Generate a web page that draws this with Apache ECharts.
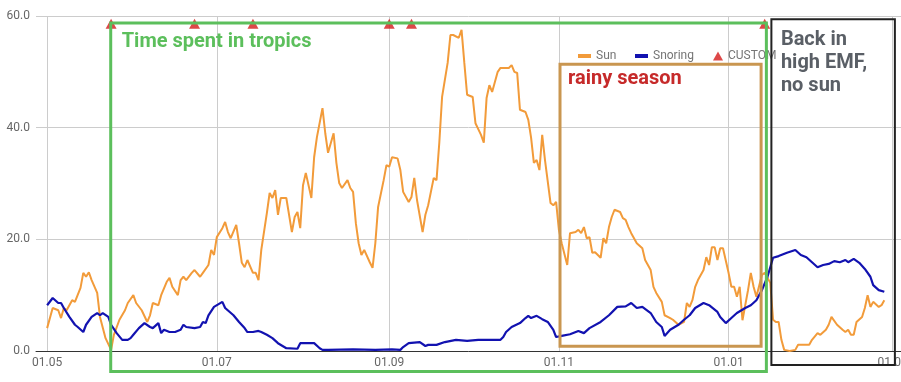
<!DOCTYPE html>
<html><head><meta charset="utf-8">
<script src="https://cdn.jsdelivr.net/npm/echarts@6/dist/echarts.min.js"></script>
<style>html,body{margin:0;padding:0;background:#fff}#c{width:901px;height:382px}</style>
</head><body><div id="c"></div>
<script>
// ---- data ----
const axisStart = '2018-04-27';
const axisEnd = '2019-03-04';
const seriesOrigin = '2018-05-01'; // day 0 of the series day offsets
const xTickLabels = ['01.05', '01.07', '01.09', '01.11', '01.01', '01.03'];

// [day offset from 1 May, value]
const sunPoints = [[0,4.1],[2,7.7],[4,7.3],[5,5.9],[6,7.7],[7,7.3],[9,9.1],[10,8.8],[12,11.3],[13,14],[14,13.3],[15,14.1],[16,12.7],[18,10.4],[19,6.1],[21,2.3],[23,0.2],[24,2.9],[26,5.6],[28,7.3],[29,8.6],[31,10],[32,8.6],[34,7.3],[36,5.2],[37,6.4],[38,8.6],[40,8.2],[41,10],[43,12.4],[44,13.1],[45,11.5],[47,10],[48,12.7],[49,13.3],[50,12.7],[52,14],[53,14.5],[55,13.3],[56,14],[58,15.4],[59,18.1],[60,17.2],[61,20.4],[63,22],[64,23.1],[65,21.3],[66,20.2],[68,22.6],[69,19.3],[70,15.8],[71,15],[72,16.3],[74,14],[75,14],[76,12.7],[77,18.1],[79,24.7],[80,28.3],[81,27.4],[82,28.8],[83,24.4],[84,27.4],[86,27.4],[88,21.3],[89,24],[90,24.9],[91,22],[92,29.7],[93,31.9],[95,27.4],[96,34.7],[97,38.3],[99,43.5],[100,39],[101,35.5],[103,39],[104,33.7],[105,30.1],[106,29.2],[108,30.6],[109,29.2],[110,28.5],[111,22.9],[112,19.3],[113,17.2],[114,18.1],[116,15.9],[117,14.9],[118,19.3],[119,25.8],[121,30.6],[122,33.3],[123,33],[124,34.7],[126,34.5],[127,32.4],[128,28.5],[130,26.7],[131,27.6],[132,31],[133,27],[135,21.3],[136,24.4],[137,26.1],[139,31],[140,30.6],[141,37.3],[142,45.5],[144,51.6],[145,56.6],[146,56.6],[148,56.1],[149,57.5],[150,51.6],[151,45.9],[153,45.5],[154,40.8],[156,38.7],[157,37.3],[158,45.3],[159,47.6],[160,46.4],[162,50],[163,50.7],[165,50.7],[166,50.7],[167,51.2],[168,50],[169,49.8],[170,43.2],[172,42.8],[173,41.4],[174,38.2],[175,33.7],[176,34.2],[177,32.4],[178,38.7],[179,34.2],[181,26.5],[182,26.1],[183,26.7],[184,21.7],[185,19.3],[187,15.4],[188,21.1],[190,21.3],[191,21.7],[192,21.1],[193,22.2],[194,20.2],[195,20.4],[196,17.6],[197,17.7],[199,16.7],[200,20.2],[201,19.3],[202,22.2],[203,24],[204,25.3],[206,24.9],[207,23.8],[208,23.5],[209,22.2],[210,21.1],[212,19.3],[214,18.4],[215,16.3],[217,14.5],[218,11.5],[219,10.4],[221,8.8],[222,6.4],[224,5.9],[225,5.6],[227,4.7],[229,5.2],[230,8.6],[231,7.9],[232,9.1],[233,11.5],[234,12.7],[236,14.5],[237,16.8],[238,15.4],[239,18.6],[240,18.6],[241,16.3],[242,18.4],[243,18.4],[245,14],[246,11.5],[247,11.5],[248,9.7],[249,11.5],[250,5.5],[252,10.9],[253,14],[254,11.5],[255,9.7],[257,13.6],[258,14],[260,12.2],[261,5.6],[262,5.2],[263,5.2],[264,2],[265,0.2],[267,0],[269,0.2],[270,1.1],[272,1.1],[274,1.1],[275,2],[277,3.2],[278,2.9],[280,3.8],[281,4.7],[282,6.1],[284,4.7],[286,3.8],[287,3.4],[288,3.8],[289,2.9],[290,2.9],[291,5.2],[293,6.1],[294,7.7],[295,10],[296,7.9],[297,8.8],[299,7.9],[300,8.2],[301,9.1]];

const snoringPoints = [[0,8.2],[2,9.5],[4,8.6],[5,8.6],[6,7.7],[8,6.1],[10,4.7],[11,4.3],[13,3.4],[14,4.7],[16,6.1],[18,6.8],[19,6.4],[20,6.8],[22,6.1],[23,4.7],[25,3.2],[27,2],[29,2],[30,2.3],[31,2.9],[33,4.1],[35,5],[37,4.3],[38,4.1],[40,5],[41,3.2],[42,3.8],[44,3.4],[46,3.4],[48,3.8],[49,4.7],[50,4.3],[53,4.1],[55,4.3],[56,5.2],[57,5],[58,6.4],[60,7.9],[63,8.8],[64,7.7],[67,6.4],[69,5.2],[71,4.1],[72,3.4],[74,3.4],[76,3.6],[77,3.4],[79,2.9],[81,2.3],[83,1.4],[86,0.5],[90,0.4],[91,1.4],[93,1.4],[96,1.4],[98,0.5],[99,0.2],[101,0.2],[110,0.3],[118,0.2],[124,0.3],[127,0.2],[128,0.7],[130,1.4],[134,1.6],[136,0.9],[137,1.1],[140,1.1],[143,1.6],[147,2],[151,1.8],[155,2],[159,2],[163,2],[164,2.5],[165,3.4],[167,4.3],[170,5],[172,5.9],[173,6.3],[174,5.9],[176,6.3],[178,5.7],[180,5.2],[182,3.8],[183,2.5],[185,2.7],[188,3],[191,3.6],[193,3.2],[195,4.1],[199,5.2],[202,6.4],[205,7.9],[208,8],[210,8.6],[212,7.7],[214,7.9],[217,6.8],[219,5.2],[221,4.3],[222,2.7],[224,3.8],[227,4.7],[229,5.6],[231,6.4],[233,7.7],[236,8.6],[238,8.2],[241,7],[242,6.1],[244,5],[246,5.9],[248,6.8],[251,7.7],[253,8.2],[255,9.1],[257,10.9],[259,13.3],[261,16.7],[263,17],[266,17.6],[269,18.1],[271,17.2],[273,16.8],[275,15.9],[277,15],[279,15.4],[281,15.6],[283,16.1],[285,15.9],[287,16.3],[288,15.9],[290,16.5],[292,15.8],[294,14.7],[296,13.3],[297,11.8],[299,10.9],[301,10.6]];

const customPoints = [[23,58.6],[53,58.6],[74,58.6],[123,58.6],[131,58.6],[258,58.6]];

// annotations: label, from day, to day, top value, bottom value
const annotationLabels = ['Time spent in tropics', 'rainy season', 'Back in\nhigh EMF,\nno sun'];
const annotationFrom = [22.86, 184.4, 260.4];
const annotationTo = [258.6, 256.7, 304.8];
const annotationTop = [58.76, 51.35, 59.4];
const annotationBottom = [-3.67, 0.84, -2.5];

// ---- build ----
const DAY = 86400000;
const t0 = Date.parse(axisStart + 'T00:00:00Z');
const t1 = Date.parse(axisEnd + 'T00:00:00Z');
const originIndex = Math.round((Date.parse(seriesOrigin + 'T00:00:00Z') - t0) / DAY);
const categories = [];
for (let t = t0; t <= t1; t += DAY) {
  const d = new Date(t);
  categories.push(String(d.getUTCDate()).padStart(2, '0') + '.' + String(d.getUTCMonth() + 1).padStart(2, '0'));
}
const toIdx = pts => pts.map(p => [p[0] + originIndex, p[1]]);
const isTick = (i, v) => xTickLabels.indexOf(v) >= 0;

const FONT = 'Roboto, Arial, sans-serif';
const chart = echarts.init(document.getElementById('c'), null, { renderer: 'canvas' });
chart.setOption({
  animation: false,
  textStyle: { fontFamily: FONT },
  grid: { left: 36, right: 0, top: 16, bottom: 31, containLabel: false, outerBoundsMode: 'none' },
  legend: [
    { data: ['Sun'], left: 573, top: 45, icon: 'rect', itemWidth: 13, itemHeight: 4, selectedMode: false,
      textStyle: { color: '#757575', fontSize: 12, fontFamily: FONT } },
    { data: ['Snoring'], left: 630, top: 45, icon: 'rect', itemWidth: 13, itemHeight: 4, selectedMode: false,
      textStyle: { color: '#757575', fontSize: 12, fontFamily: FONT } },
    { data: ['CUSTOM'], left: 708, top: 45, icon: 'triangle', itemWidth: 10, itemHeight: 9, selectedMode: false,
      textStyle: { color: '#757575', fontSize: 12, fontFamily: FONT } }
  ],
  xAxis: {
    type: 'category', data: categories, boundaryGap: false,
    axisLine: { lineStyle: { color: '#333', width: 1 } },
    axisTick: { show: false },
    axisLabel: { interval: isTick, color: '#666', fontSize: 12, fontFamily: FONT, margin: 6, hideOverlap: false },
    splitLine: { show: true, interval: isTick, lineStyle: { color: '#cccccc', width: 1 } }
  },
  yAxis: {
    type: 'value', min: 0, max: 60, interval: 20,
    axisLine: { show: false }, axisTick: { show: false },
    axisLabel: { formatter: v => v.toFixed(1), color: '#666', fontSize: 12, fontFamily: FONT, margin: 6 },
    splitLine: { lineStyle: { color: '#cccccc', width: 1 } }
  },
  series: [
    { name: 'Sun', type: 'line', data: toIdx(sunPoints), color: '#f29b3a', showSymbol: false,
      lineStyle: { width: 2, color: '#f29b3a' }, z: 3 },
    { name: 'Snoring', type: 'line', data: toIdx(snoringPoints), color: '#1212b0', showSymbol: false,
      lineStyle: { width: 2.2, color: '#1212b0' }, z: 4 },
    { name: 'CUSTOM', type: 'scatter', data: toIdx(customPoints), color: '#d41a1a',
      symbol: 'triangle', symbolSize: [11, 10], z: 5 }
  ]
});

// annotation overlay positioned through the chart's own axes
const px = d => {
  const idx = d + originIndex, lo = Math.floor(idx), hi = Math.ceil(idx);
  const a = chart.convertToPixel({ xAxisIndex: 0 }, lo);
  const b = chart.convertToPixel({ xAxisIndex: 0 }, hi);
  return hi === lo ? a : a + (b - a) * (idx - lo);
};
const py = v => chart.convertToPixel({ yAxisIndex: 0 }, v);
const boxStroke = ['#5cbf5c', '#c99650', '#222222'];
const boxWidth = [3, 3, 2];
const textFill = ['#5cbf5c', '#c62a2a', '#5a5f66'];
const textDx = [11, 8, 9.5];
const textDy = [7.6, 3.7, 9.2];
const graphics = [];
annotationLabels.forEach((label, i) => {
  const x0 = px(annotationFrom[i]), x1 = px(annotationTo[i]);
  const y0 = py(annotationTop[i]), y1 = py(annotationBottom[i]);
  graphics.push({ type: 'rect', z: 100, silent: true,
    shape: { x: x0, y: y0, width: x1 - x0, height: y1 - y0 },
    style: { fill: null, stroke: boxStroke[i], lineWidth: boxWidth[i] } });
  graphics.push({ type: 'text', z: 101, silent: true, x: x0 + textDx[i], y: y0 + textDy[i],
    style: { text: label, fill: textFill[i], font: 'bold 20px ' + FONT, lineHeight: 23,
      align: 'left', verticalAlign: 'top' } });
});
chart.setOption({ graphic: graphics });
</script>
</body></html>
